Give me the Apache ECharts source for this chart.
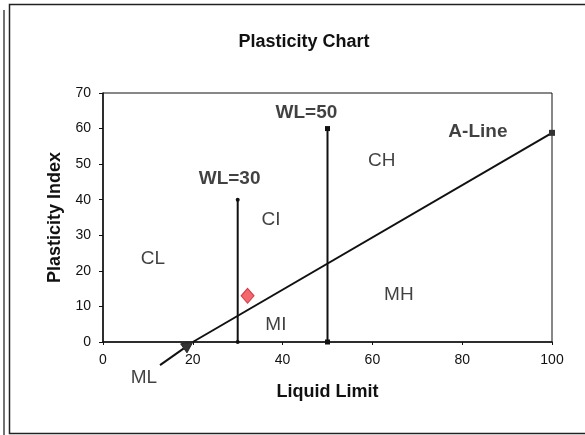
<!DOCTYPE html>
<html><head><meta charset="utf-8">
<script src="https://cdn.jsdelivr.net/npm/echarts@6/dist/echarts.min.js"></script>
<style>html,body{margin:0;padding:0;background:#fff}#c{width:585px;height:435px}</style>
</head><body><div id="c"></div>
<script>
// Axis ticks
const xTicks = [0, 20, 40, 60, 80, 100];
const yTicks = [0, 10, 20, 30, 40, 50, 60, 70];
// A-line points [LL, PI]
const aLineLL = [20, 100];
const aLinePI = [0, 58.8];
// Wet limit lines
const wl30LL = [30, 30];
const wl30PI = [0, 40];
const wl50LL = [50, 50];
const wl50PI = [0, 60];
// ML arrow (from label to A-line origin)
const mlArrowLL = [12.7, 20];
const mlArrowPI = [-6.5, 0];
// Sample point
const sampleLL = [32.2];
const samplePI = [13];
// Region labels
const regionNames = ['CL', 'CI', 'CH', 'MH', 'MI', 'ML'];
const regionLL = [11.1, 37.4, 62.1, 65.9, 38.5, 9.1];
const regionPI = [23.5, 34.5, 50.9, 13.4, 4.8, -10.0];
// Bold line labels
const lineNames = ['WL=30', 'WL=50', 'A-Line'];
const lineLL = [28.2, 45.3, 83.5];
const linePI = [46.0, 64.5, 59.1];

const zip = (a, b) => a.map((v, i) => [v, b[i]]);
const font = 'Liberation Sans, Arial, sans-serif';

const chart = echarts.init(document.getElementById('c'));
chart.setOption({
  animation: false,
  backgroundColor: '#fff',
  title: {
    text: 'Plasticity Chart', left: 299, top: 28, textAlign: 'center',
    textStyle: { fontFamily: font, fontSize: 18, fontWeight: 'bold', color: '#111' }
  },
  grid: { left: 103, right: 33, top: 93, bottom: 93, show: true, borderColor: '#111', borderWidth: 1 },
  xAxis: {
    type: 'value', min: 0, max: 100, interval: 20,
    name: 'Liquid Limit', nameLocation: 'middle', nameGap: 41,
    nameTextStyle: { fontFamily: font, fontSize: 18, fontWeight: 'bold', color: '#111' },
    axisLine: { show: true, lineStyle: { color: '#111', width: 1.5 } },
    axisTick: { show: true, length: 3, lineStyle: { color: '#111' } },
    axisLabel: { fontFamily: font, fontSize: 14, color: '#111', margin: 11 },
    splitLine: { show: false }
  },
  yAxis: {
    type: 'value', min: 0, max: 70, interval: 10,
    name: 'Plasticity Index', nameLocation: 'middle', nameGap: 36,
    nameTextStyle: { fontFamily: font, fontSize: 18, fontWeight: 'bold', color: '#111' },
    axisLine: { show: true, lineStyle: { color: '#111', width: 1.5 } },
    axisTick: { show: true, length: 4, lineStyle: { color: '#111' } },
    axisLabel: { fontFamily: font, fontSize: 14, color: '#111', margin: 12 },
    splitLine: { show: false }
  },
  graphic: [
    { type: 'rect', shape: { x: 9.5, y: 4.5, width: 600, height: 429 }, style: { fill: 'none', stroke: '#222', lineWidth: 1.5 }, z: 0 },
    { type: 'line', shape: { x1: 4, y1: 10, x2: 4, y2: 435 }, style: { stroke: '#444', lineWidth: 1.5 }, z: 0 }
  ],
  series: [
    {
      type: 'line', clip: false,
      data: [ { value: [aLineLL[0], aLinePI[0]], symbolSize: 0 }, { value: [aLineLL[1], aLinePI[1]], symbolSize: 6 } ],
      lineStyle: { color: '#111', width: 2 },
      symbol: 'rect', showSymbol: true,
      itemStyle: { color: '#333' }, z: 3
    },
    {
      type: 'line', data: zip(wl30LL, wl30PI),
      lineStyle: { color: '#111', width: 2 },
      symbol: 'circle', symbolSize: 4, itemStyle: { color: '#111' }, z: 3
    },
    {
      type: 'line', data: zip(wl50LL, wl50PI),
      lineStyle: { color: '#111', width: 2 },
      symbol: 'rect', symbolSize: 5, itemStyle: { color: '#111' }, z: 3
    },
    {
      type: 'custom', clip: false, silent: true, z: 4,
      encode: { x: [0, 2], y: [1, 3] },
      data: [[mlArrowLL[0], mlArrowPI[0], mlArrowLL[1], mlArrowPI[1]]],
      renderItem: function (params, api) {
        const p0 = api.coord([api.value(0), api.value(1)]);
        const p1 = api.coord([api.value(2), api.value(3)]);
        const dx = p1[0] - p0[0], dy = p1[1] - p0[1];
        const len = Math.sqrt(dx * dx + dy * dy);
        const ux = dx / len, uy = dy / len;
        const hl = 11, hw = 5.5;
        const bx = p1[0] - ux * hl, by = p1[1] - uy * hl;
        return {
          type: 'group',
          children: [
            { type: 'line', shape: { x1: p0[0], y1: p0[1], x2: bx, y2: by }, style: { stroke: '#111', lineWidth: 2 } },
            { type: 'polygon', shape: { points: [p1, [bx - uy * hw, by + ux * hw], [bx + uy * hw, by - ux * hw]] }, style: { fill: '#333', stroke: '#222', lineWidth: 1 } }
          ]
        };
      }
    },
    {
      type: 'scatter', data: zip(sampleLL, samplePI),
      symbol: 'diamond', symbolSize: [13, 15],
      itemStyle: { color: '#f0424a', borderColor: '#c8202a', borderWidth: 1 }, z: 5
    },
    {
      type: 'scatter', clip: false, symbolSize: 0,
      data: regionNames.map((n, i) => ({ value: [regionLL[i], regionPI[i]], name: n })),
      label: {
        show: true, position: 'inside', formatter: p => p.name,
        fontFamily: font, fontSize: 19, color: '#111'
      }, z: 6
    },
    {
      type: 'scatter', clip: false, symbolSize: 0,
      data: lineNames.map((n, i) => ({ value: [lineLL[i], linePI[i]], name: n })),
      label: {
        show: true, position: 'inside', formatter: p => p.name,
        fontFamily: font, fontSize: 19, fontWeight: 'bold', color: '#111'
      }, z: 6
    }
  ]
});
</script></body></html>
